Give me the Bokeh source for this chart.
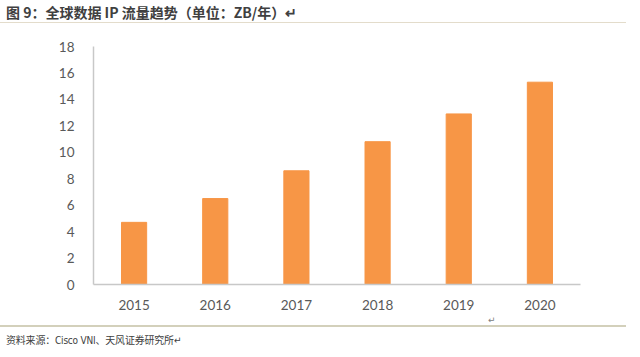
from bokeh.plotting import figure
from bokeh.models import Div, Range1d
from bokeh.layouts import column
from bokeh.embed import file_html
from bokeh.resources import INLINE

years = ["2015", "2016", "2017", "2018", "2019", "2020"]
traffic = [4.7, 6.5, 8.6, 10.8, 12.9, 15.3]
y_ticks = [0, 2, 4, 6, 8, 10, 12, 14, 16, 18]
title_text = "图 9：全球数据 IP 流量趋势（单位：ZB/年）↵"
source_text = "资料来源：Cisco VNI、天风证券研究所↵"

W = 632

title = Div(
    text=f'<div style="font-family:\'Noto Sans CJK SC\';font-weight:bold;font-size:14px;'
         f'color:#404040;padding:3px 0 0 6px;line-height:18px;width:{W - 6}px;height:23px;'
         f'border-bottom:1px solid #e3dccb;white-space:nowrap;">{title_text}</div>',
    width=W, height=27, margin=(0, 0, 0, 0),
)

p = figure(
    x_range=years, y_range=Range1d(0, 18),
    width=W, height=289, output_backend="svg", toolbar_location=None,
    min_border_left=93, min_border_right=52, min_border_top=19, min_border_bottom=32,
    margin=(0, 0, 0, 0),
)
p.vbar(x=years, top=traffic, width=0.31, color="#f79646")
p.outline_line_color = None
p.xgrid.grid_line_color = None
p.ygrid.grid_line_color = None
p.yaxis.ticker = y_ticks
for ax in (p.xaxis[0], p.yaxis[0]):
    ax.axis_line_color = "#c8c8c8"
    ax.axis_line_width = 1.5
    ax.major_tick_line_color = None
    ax.minor_tick_line_color = None
    ax.major_label_text_color = "#595959"
    ax.major_label_text_font = "Lato"
    ax.major_label_text_font_size = "13.5px"
p.yaxis.major_label_standoff = 13
p.xaxis.major_label_standoff = 9

footer = Div(
    text=f'<div style="width:{W}px;height:9px;position:relative;">'
         f'<span style="position:absolute;left:488px;top:0px;font-size:9px;line-height:9px;'
         f'color:#808080;font-family:\'DejaVu Sans\';">↵</span></div>'
         f'<div style="font-family:\'DejaVu Sans Condensed\',\'Noto Sans CJK SC\';font-size:10px;'
         f'color:#404040;padding-left:6px;width:{W - 6}px;height:25px;line-height:28px;'
         f'border-top:2px solid #d3d0bb;white-space:nowrap;letter-spacing:-0.2px;">{source_text}</div>',
    width=W, height=36, margin=(0, 0, 0, 0),
)

layout = column(title, p, footer, spacing=0)
open("out.html", "w").write(file_html(layout, INLINE))
